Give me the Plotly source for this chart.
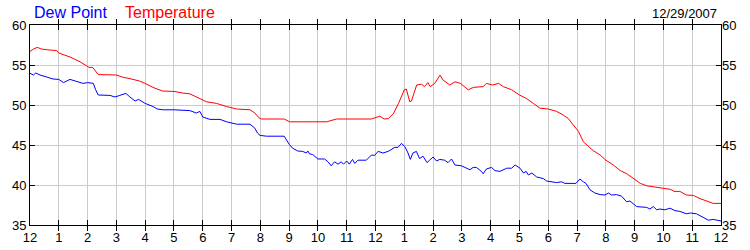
import plotly.graph_objects as go

temp_hours = [0.0, 0.12, 0.25, 0.4, 0.6, 0.93, 1.0, 1.39, 1.74, 1.95, 2.05, 2.18, 2.3, 2.37, 3.0, 3.2, 3.58, 3.8,
              4.0, 4.27, 4.6, 5.0, 5.3, 5.55, 5.9, 6.13, 6.48, 6.83, 7.18, 7.64, 7.81, 7.95, 8.03, 8.83, 9.02,
              10.3, 10.65, 11.86, 12.15, 12.3, 12.45, 12.62, 12.8, 13.0, 13.07, 13.19, 13.25, 13.43, 13.6, 13.7,
              13.82, 13.9, 14.06, 14.24, 14.35, 14.58, 14.76, 14.95, 15.22, 15.4, 15.74, 15.85, 16.07, 16.27,
              16.44, 16.73, 17.0, 17.25, 17.48, 17.71, 18.0, 18.29, 18.52, 18.7, 18.87, 19.05, 19.22, 19.39,
              19.56, 19.8, 20.0, 20.26, 20.5, 20.73, 21.0, 21.2, 21.42, 21.77, 22.0, 22.25, 22.37, 22.57, 22.8,
              23.04, 23.27, 23.5, 23.73, 24.0]
temp_values = [56.7, 57.0, 57.2, 57.0, 56.9, 56.8, 56.5, 56.0, 55.4, 54.9, 54.7, 54.7, 54.2, 53.8, 53.75, 53.5,
               53.2, 53.0, 52.7, 52.2, 51.75, 51.7, 51.5, 51.4, 50.8, 50.4, 50.2, 49.8, 49.5, 49.4, 49.0, 48.4,
               48.25, 48.25, 47.9, 47.9, 48.25, 48.25, 48.6, 48.25, 48.3, 48.9, 50.2, 51.9, 52.0, 50.4, 50.5,
               52.5, 52.6, 52.3, 52.8, 52.3, 52.7, 53.75, 53.1, 52.5, 52.9, 52.7, 51.9, 52.2, 52.3, 52.7, 52.5,
               52.7, 52.3, 51.9, 51.25, 50.8, 50.2, 49.6, 49.5, 49.2, 48.75, 48.3, 47.5, 46.7, 45.4, 44.9, 44.3,
               43.75, 43.1, 42.5, 41.8, 41.4, 40.7, 40.2, 39.9, 39.7, 39.6, 39.45, 39.2, 39.2, 38.75, 38.7, 38.3,
               38.0, 37.7, 37.7]

dew_hours = [0.0, 0.12, 0.2, 0.35, 0.58, 0.8, 1.0, 1.1, 1.16, 1.39, 1.6, 1.84, 2.0, 2.2, 2.28, 2.37, 2.78, 2.95,
             3.12, 3.33, 3.47, 3.65, 3.77, 4.0, 4.28, 4.42, 4.63, 5.0, 5.55, 5.78, 5.9, 6.0, 6.25, 6.6, 6.83,
             7.18, 7.64, 7.81, 7.9, 7.99, 8.22, 8.83, 9.0, 9.12, 9.3, 9.47, 9.6, 9.65, 9.71, 9.82, 10.0, 10.23,
             10.35, 10.46, 10.58, 10.7, 10.81, 10.89, 11.0, 11.09, 11.2, 11.28, 11.39, 11.68, 11.86, 11.97,
             12.09, 12.26, 12.44, 12.67, 12.78, 12.9, 13.02, 13.13, 13.21, 13.3, 13.42, 13.53, 13.65, 13.79,
             13.88, 14.0, 14.12, 14.23, 14.4, 14.52, 14.64, 14.76, 14.99, 15.16, 15.28, 15.39, 15.5, 15.68,
             15.74, 15.85, 16.03, 16.15, 16.32, 16.56, 16.73, 16.85, 17.02, 17.14, 17.23, 17.31, 17.43, 17.6,
             17.83, 17.94, 18.29, 18.46, 18.58, 18.96, 19.1, 19.22, 19.31, 19.45, 19.62, 19.8, 19.97, 20.09,
             20.2, 20.37, 20.55, 20.72, 20.84, 21.07, 21.42, 21.53, 21.65, 21.77, 21.88, 22.05, 22.23, 22.4,
             22.57, 22.8, 22.94, 23.15, 23.38, 23.56, 23.73, 24.0]
dew_values = [53.96, 53.75, 54.0, 53.75, 53.5, 53.25, 53.2, 53.0, 52.8, 53.2, 53.0, 52.7, 52.8, 52.7, 51.9,
              51.25, 51.2, 51.0, 51.2, 51.45, 51.0, 50.5, 50.7, 50.2, 49.8, 49.5, 49.4, 49.4, 49.3, 49.0, 49.2,
              48.5, 48.2, 48.2, 47.9, 47.6, 47.6, 47.1, 46.5, 46.2, 46.1, 46.1, 45.1, 44.6, 44.25, 44.2, 44.0,
              44.25, 43.9, 43.8, 43.25, 43.25, 42.9, 42.4, 42.9, 42.6, 42.9, 42.6, 43.0, 42.6, 43.2, 42.7, 43.1,
              43.1, 43.75, 43.7, 44.2, 44.0, 44.2, 44.7, 44.7, 45.2, 44.8, 44.0, 43.2, 44.0, 44.2, 43.3, 43.6,
              42.8, 43.1, 43.5, 43.0, 43.2, 43.1, 42.8, 43.25, 42.5, 42.4, 42.1, 41.9, 42.2, 42.2, 41.7, 41.4,
              42.0, 42.2, 41.8, 41.7, 42.1, 42.1, 42.5, 42.1, 41.5, 41.7, 41.25, 41.5, 41.0, 40.8, 40.5, 40.3,
              40.4, 40.2, 40.2, 40.75, 40.4, 40.2, 39.4, 39.0, 38.8, 38.75, 39.0, 38.75, 38.8, 38.6, 37.9, 38.0,
              37.3, 37.2, 37.0, 37.3, 36.9, 37.0, 36.9, 37.1, 36.8, 36.7, 36.4, 36.5, 36.4, 36.0, 35.6, 35.7,
              35.5]

x_tick_vals = list(range(0, 25))
x_tick_text = ["12", "1", "2", "3", "4", "5", "6", "7", "8", "9", "10", "11",
               "12", "1", "2", "3", "4", "5", "6", "7", "8", "9", "10", "11", "12"]
y_tick_vals = [35, 40, 45, 50, 55, 60]
date_label = "12/29/2007"

FONT = "Liberation Sans, Arial, sans-serif"

fig = go.Figure()
fig.add_trace(go.Scatter(x=dew_hours, y=dew_values, mode="lines",
                         line=dict(color="#0000FF", width=1), name="Dew Point", yaxis="y"))
fig.add_trace(go.Scatter(x=temp_hours, y=temp_values, mode="lines",
                         line=dict(color="#FF0000", width=1), name="Temperature", yaxis="y2"))

fig.update_layout(
    width=750, height=250,
    margin=dict(l=30, r=29, t=25, b=25),
    paper_bgcolor="white", plot_bgcolor="white",
    showlegend=False,
    font=dict(family=FONT, size=13, color="black"),
    xaxis=dict(range=[0, 24], tickvals=x_tick_vals, ticktext=x_tick_text, automargin=False,
               ticks="inside", ticklen=5, tickcolor="black", showline=True, linecolor="black",
               linewidth=1, mirror="allticks", showgrid=True, gridcolor="#cccccc", gridwidth=1,
               zeroline=False, tickfont=dict(size=13, family=FONT, color="black")),
    yaxis=dict(range=[35, 60], tickvals=y_tick_vals, ticks="inside", ticklen=5, tickcolor="black",
               showline=True, linecolor="black", linewidth=1, mirror="allticks", showgrid=True,
               gridcolor="#cccccc", gridwidth=1, zeroline=False, automargin=False,
               tickfont=dict(size=13, family=FONT, color="black")),
    yaxis2=dict(range=[35, 60], tickvals=y_tick_vals, overlaying="y", side="right", ticks="",
                showline=False, showgrid=False, zeroline=False, automargin=False,
                tickfont=dict(size=13, family=FONT, color="black")),
    annotations=[
        dict(text="Dew Point", x=0, y=1, xref="paper", yref="paper", xanchor="left", yanchor="middle",
             xshift=2, yshift=13, showarrow=False, font=dict(size=16, family=FONT, color="#0000FF")),
        dict(text="Temperature", x=0, y=1, xref="paper", yref="paper", xanchor="left", yanchor="middle",
             xshift=93, yshift=13, showarrow=False, font=dict(size=16, family=FONT, color="#FF0000")),
        dict(text=date_label, x=1, y=1, xref="paper", yref="paper", xanchor="right", yanchor="middle",
             xshift=-2, yshift=12, showarrow=False, font=dict(size=13, family=FONT, color="black")),
    ],
)

fig.write_html("out.html")
